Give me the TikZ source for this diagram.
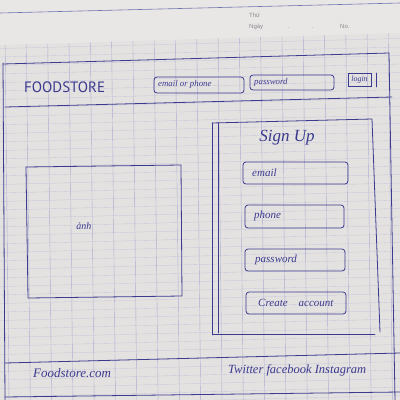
\documentclass[tikz,border=0pt]{standalone}
\usepackage{fontspec}
\setmainfont{Liberation Serif}
\newfontfamily\printfont{Liberation Sans}
\newfontfamily\logofont{PT Sans}
\definecolor{ink}{HTML}{3A3A8E}
\definecolor{paper}{HTML}{E4E1E1}
\definecolor{papertop}{HTML}{E8E7E6}
\definecolor{gridc}{HTML}{ADAED0}
\definecolor{printc}{HTML}{8A8A90}
\begin{document}
\begin{tikzpicture}[x=1pt,y=-1pt,
  pen/.style={draw=ink, line width=0.8pt, line cap=round},
  field/.style={draw=ink, line width=0.8pt, rounded corners=3pt},
  hand/.style={text=ink, font=\itshape\fontsize{11}{11}\selectfont, inner sep=0pt},
  fieldtext/.style={hand, anchor=west},
  printed/.style={text=printc, font=\printfont\fontsize{6}{6}\selectfont, inner sep=0pt},
  hgrid/.style={draw=gridc!55!paper, line width=0.3pt},
  vgrid/.style={draw=gridc, line width=0.4pt}]
\useasboundingbox (0,0) rectangle (400,400);

% paper
\fill[paper] (0,0) rectangle (400,400);
\fill[papertop] (0,0) -- (400,0) -- (400,33) -- (0,45) -- cycle;
\draw[ink!70, line width=0.6pt] (0,13) -- (400,3);
\node[printed, anchor=west] (thu) at (249,15) {Thứ};
\node[printed, anchor=west] (ngay) at (249,27) {Ngày};
\node[printed] (dot1) at (289,28) {.};
\node[printed] (dot2) at (313,28) {.};
\node[printed, anchor=west] (no) at (340,26) {No.};

% ruled notebook grid
\begin{scope}
  \clip (0,45) -- (400,33) -- (400,400) -- (0,400) -- cycle;
  \foreach \y in {40,48.5,...,420}
    \draw[hgrid] (0,\y) -- (400,\y-10);
  \foreach \x in {5,26.3,...,400}
    \draw[vgrid] (\x,30) -- (\x+4,400);
\end{scope}

% page frame
\draw[pen] (3,63) -- (5,400);
\draw[pen] (389,53) -- (395,400);

% header bar
\draw[pen] (3,64) -- (389,53);
\draw[pen] (5,107) -- (392,97);
\node[text=ink, font=\logofont\fontsize{15}{15}\selectfont, inner sep=0pt, anchor=west] (logo) at (24,87) {FOODSTORE};
\draw[field] (154,77) rectangle (244,93);
\node[fieldtext, font=\itshape\fontsize{8.8}{9}\selectfont] (loginuser) at (158,84) {email or phone};
\draw[field] (250,75) rectangle (334,90);
\node[fieldtext, font=\itshape\fontsize{8.8}{9}\selectfont] (loginpass) at (254,82) {password};
\draw[pen] (348,73) rectangle (371,86);
\draw[pen] (376,73) -- (376,87);
\node[hand, font=\itshape\fontsize{8}{8}\selectfont] (loginbtn) at (359.5,79.5) {login};

% image placeholder
\draw[pen] (26,167) -- (181,165) -- (182,296) -- (28,298) -- cycle;
\node[hand, font=\itshape\fontsize{10}{10}\selectfont] (imgtext) at (84,226) {ảnh};

% sign-up panel
\draw[pen] (212,123) -- (372,119) -- (380,332);
\draw[pen] (212,123) -- (212,335);
\draw[pen] (218,123) -- (218,333);
\draw[pen] (213,334) -- (375,334);
\node[hand, font=\itshape\fontsize{17}{17}\selectfont] (signup) at (287,138) {Sign Up};

\draw[field] (243,162) rectangle (348,184);
\node[fieldtext] (suemail) at (252,173) {email};
\draw[field] (245,205) rectangle (344,228);
\node[fieldtext] (suphone) at (254,216) {phone};
\draw[field] (245,249) rectangle (345,271);
\node[fieldtext] (supass) at (255,260) {password};
\draw[field] (246,292) rectangle (346,314);
\node[fieldtext] (sucreate) at (258,303) {Create\quad account};

% footer
\draw[pen] (5,363) -- (400,353);
\draw[pen] (5,397) -- (400,392);
\node[hand, anchor=west, font=\itshape\fontsize{13}{13}\selectfont] (site) at (33,373) {Foodstore.com};
\node[hand, anchor=west, font=\itshape\fontsize{12.5}{13}\selectfont] (social) at (228,370) {Twitter\ facebook\ Instagram};
\end{tikzpicture}
\end{document}
